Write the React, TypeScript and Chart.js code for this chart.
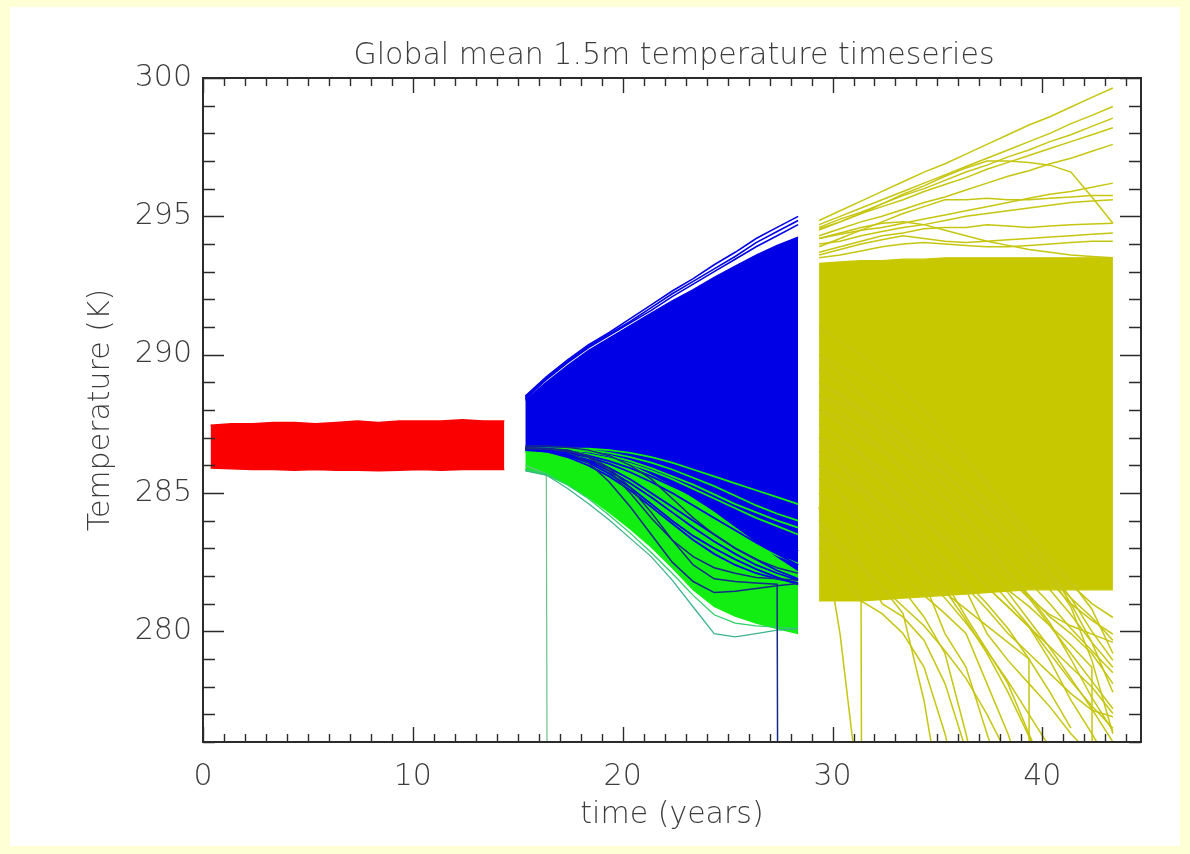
import React, { useEffect, useRef } from 'react';
import { Chart, registerables } from 'chart.js';

Chart.register(...registerables);

// ---------- axis / text ----------
const titleText = 'Global mean 1.5m temperature timeseries';
const xAxisTitle = 'time (years)';
const yAxisTitle = 'Temperature (K)';
const xMin = 0;
const xMax = 44.7;
const yMin = 276;
const yMax = 300;
const xMajorTicks = [0, 10, 20, 30, 40];
const xTickLabels = ['0', '10', '20', '30', '40'];
const yMajorTicks = [280, 285, 290, 295, 300];
const yTickLabels = ['280', '285', '290', '295', '300'];

// ---------- time axes of the three phases ----------
const redYears = [0.36, 1.36, 2.36, 3.36, 4.36, 5.36, 6.36, 7.36, 8.36, 9.36, 10.36, 11.36, 12.36, 13.36, 14.36];
const blueYears = [15.36, 16.36, 17.36, 18.36, 19.36, 20.36, 21.36, 22.36, 23.36, 24.36, 25.36, 26.36, 27.36, 28.36];
const yellowYears = [29.36, 30.36, 31.36, 32.36, 33.36, 34.36, 35.36, 36.36, 37.36, 38.36, 39.36, 40.36, 41.36, 42.36, 43.36];

// ---------- red ensemble (envelope of the dense band) ----------
const redUpper = [287.45, 287.5, 287.5, 287.55, 287.55, 287.5, 287.55, 287.6, 287.55, 287.6, 287.6, 287.6, 287.65, 287.6, 287.6];
const redLower = [285.9, 285.88, 285.85, 285.85, 285.82, 285.85, 285.82, 285.82, 285.8, 285.82, 285.85, 285.82, 285.85, 285.85, 285.85];

// ---------- blue ensemble ----------
const blueTop1 = [288.5, 289.2, 289.8, 290.35, 290.8, 291.3, 291.8, 292.3, 292.75, 293.25, 293.7, 294.2, 294.6, 295.0];
const blueTop2 = [288.45, 289.15, 289.75, 290.3, 290.75, 291.2, 291.7, 292.2, 292.65, 293.1, 293.55, 294.05, 294.45, 294.85];
const blueTop3 = [288.4, 289.1, 289.7, 290.25, 290.7, 291.15, 291.6, 292.1, 292.55, 293.0, 293.45, 293.9, 294.3, 294.7];
const blueMassTop = [288.35, 289.0, 289.6, 290.15, 290.6, 291.05, 291.5, 291.95, 292.35, 292.8, 293.2, 293.6, 293.95, 294.25];
const blueMassBottom = [286.6, 286.6, 286.55, 286.45, 286.3, 286.05, 285.7, 285.3, 284.85, 284.35, 283.8, 283.25, 282.7, 282.2];
const blueLine1 = [286.6, 286.55, 286.4, 286.2, 285.9, 285.5, 285.0, 284.5, 284.0, 283.5, 283.0, 282.6, 282.2, 281.9];
const blueLine2 = [286.6, 286.5, 286.3, 286.0, 285.6, 285.1, 284.5, 283.9, 283.3, 282.8, 282.4, 282.1, 281.9, 281.75];
const blueLine3 = [286.55, 286.5, 286.35, 286.1, 285.7, 285.2, 284.6, 284.0, 283.45, 283.0, 282.6, 282.25, 281.95, 281.7];
const blueLine4 = [286.6, 286.55, 286.45, 286.3, 286.05, 285.75, 285.4, 285.0, 284.55, 284.1, 283.65, 283.2, 282.8, 282.4];
const blueLine5 = [286.6, 286.6, 286.5, 286.35, 286.15, 285.9, 285.6, 285.25, 284.9, 284.5, 284.1, 283.7, 283.3, 282.9];
const blueLine6 = [286.6, 286.55, 286.4, 286.15, 285.8, 285.35, 284.85, 284.3, 283.75, 283.25, 282.8, 282.4, 282.1, 281.85];
const navyLine1 = [286.6, 286.6, 286.5, 286.1, 285.4, 284.5, 283.5, 282.5, 281.8, 281.4, 281.45, 281.55, 281.65, 281.73];
const navyLine2 = [286.65, 286.6, 286.55, 286.35, 285.9, 285.2, 284.3, 283.3, 282.4, 281.9, 281.8, 281.75, 281.7, 0];
const navyLine3 = [286.7, 286.7, 286.65, 286.55, 286.35, 286.0, 285.5, 284.8, 284.1, 283.5, 283.0, 282.6, 282.3, 282.1];
const navyLine4 = [286.6, 286.6, 286.55, 286.3, 285.8, 285.0, 284.1, 283.3, 282.7, 282.3, 282.1, 281.95, 281.9, 281.85];

// ---------- green ensemble ----------
const greenFillTop = [286.65, 286.7, 286.65, 286.55, 286.4, 286.15, 285.8, 285.4, 284.95, 284.45, 283.9, 283.35, 282.8, 282.3];
const greenFillBottom = [285.83, 285.65, 285.3, 284.85, 284.3, 283.7, 283.05, 282.3, 281.5, 280.9, 280.55, 280.3, 280.1, 279.92];
const greenStreak1 = [286.55, 286.55, 286.5, 286.4, 286.25, 286.05, 285.8, 285.5, 285.15, 284.8, 284.45, 284.1, 283.8, 283.5];
const greenStreak2 = [286.6, 286.6, 286.6, 286.55, 286.45, 286.3, 286.1, 285.85, 285.55, 285.25, 284.9, 284.55, 284.25, 284.0];
const greenStreak3 = [286.5, 286.45, 286.35, 286.15, 285.9, 285.6, 285.25, 284.85, 284.4, 283.95, 283.5, 283.1, 282.75, 282.45];
const greenStreak4 = [286.6, 286.6, 286.55, 286.5, 286.35, 286.15, 285.9, 285.6, 285.3, 284.95, 284.6, 284.3, 284.0, 283.75];
const greenStreak5 = [286.6, 286.6, 286.6, 286.6, 286.55, 286.45, 286.3, 286.1, 285.85, 285.6, 285.35, 285.1, 284.85, 284.6];
const greenOutlier1 = [285.8, 285.65, 285.17, 284.62, 284.02, 283.36, 282.7, 281.85, 280.88, 279.92, 279.8, 279.92, 280.04, 280.1];
const greenOutlier2 = [285.85, 285.7, 285.3, 284.8, 284.2, 283.55, 282.85, 282.1, 281.3, 280.6, 280.3, 280.2, 280.15, 280.1];
const greenDrop = [286.0, 285.7, 0, null, null, null, null, null, null, null, null, null, null, null];

// ---------- yellow ensemble ----------
const yellowFillTop = [293.3, 293.35, 293.4, 293.4, 293.45, 293.45, 293.5, 293.5, 293.5, 293.5, 293.5, 293.5, 293.5, 293.5, 293.5];
const yellowFillBottom = [281.1, 281.1, 281.1, 281.15, 281.2, 281.25, 281.3, 281.35, 281.4, 281.45, 281.5, 281.5, 281.5, 281.5, 281.5];
const yellowUp1 = [294.85, 295.2, 295.55, 295.9, 296.25, 296.6, 296.9, 297.25, 297.6, 297.95, 298.3, 298.6, 298.95, 299.3, 299.64];
const yellowUp2 = [294.7, 295.0, 295.3, 295.6, 295.9, 296.2, 296.5, 296.8, 297.1, 297.4, 297.7, 298.0, 298.35, 298.65, 298.97];
const yellowUp3 = [294.6, 294.9, 295.15, 295.45, 295.75, 296.0, 296.3, 296.6, 296.85, 297.15, 297.4, 297.7, 297.95, 298.25, 298.55];
const yellowUp4 = [294.55, 294.8, 295.1, 295.35, 295.6, 295.9, 296.15, 296.4, 296.7, 296.95, 297.2, 297.45, 297.7, 297.95, 298.2];
const yellowUp5 = [294.3, 294.55, 294.8, 295.0, 295.25, 295.5, 295.7, 295.95, 296.2, 296.45, 296.65, 296.9, 297.1, 297.35, 297.6];
const yellowUp6 = [294.5, 294.8, 295.1, 295.45, 295.8, 296.1, 296.45, 296.75, 297.0, 297.0, 296.95, 296.85, 296.6, 295.7, 294.75];
const yellowUp7 = [294.2, 294.35, 294.5, 294.6, 294.75, 294.9, 295.05, 295.2, 295.35, 295.5, 295.65, 295.8, 295.9, 296.05, 296.2];
const yellowUp8 = [293.9, 294.2, 294.5, 294.8, 295.1, 295.35, 295.6, 295.6, 295.65, 295.6, 295.6, 295.65, 295.7, 295.75, 295.75];
const yellowUp9 = [294.0, 294.1, 294.3, 294.45, 294.6, 294.7, 294.85, 295.0, 295.1, 295.2, 295.3, 295.4, 295.5, 295.55, 295.6];
const yellowUp10 = [293.7, 293.9, 294.1, 294.3, 294.4, 294.55, 294.6, 294.6, 294.7, 294.65, 294.6, 294.65, 294.7, 294.72, 294.75];
const yellowUp11 = [293.6, 293.8, 294.0, 294.15, 294.3, 294.2, 294.1, 294.05, 294.1, 294.15, 294.2, 294.25, 294.3, 294.35, 294.4];
const yellowUp12 = [293.5, 293.6, 293.75, 293.9, 294.0, 294.05, 294.0, 293.95, 293.9, 293.9, 293.95, 294.0, 294.05, 294.1, 294.1];
const yellowUp13 = [294.2, 294.4, 294.6, 294.75, 294.8, 294.7, 294.5, 294.3, 294.1, 293.95, 293.8, 293.7, 293.6, 293.55, 293.5];
const yellowLow1 = [284.5, 279.9, 273.5, null, null, null, null, null, null, null, null, null, null, null, null];
const yellowLow2 = [283.0, 282.0, 281.1, 0, null, null, null, null, null, null, null, null, null, null, null];
const yellowLow3 = [284.0, 283.0, 281.1, 280.64, 279.92, 278.71, 276.3, 273.0, null, null, null, null, null, null, null];
const yellowLow4 = [285.0, 284.0, 282.5, 281.0, 280.52, 279.68, 278.11, 275.7, null, null, null, null, null, null, null];
const yellowLow5 = [283.5, 283.0, 282.3, 281.6, 280.64, 277.5, 273.0, null, null, null, null, null, null, null, null];
const yellowLow6 = [286.0, 285.0, 283.5, 282.2, 281.5, 280.52, 279.2, 276.3, 273.0, null, null, null, null, null, null];
const yellowLow7 = [285.5, 285.0, 284.0, 283.0, 282.0, 281.3, 280.64, 279.92, 278.11, 276.3, 274.0, null, null, null, null];
const yellowLow8 = [287.0, 286.0, 285.0, 284.0, 283.0, 281.8, 279.92, 278.71, 276.3, 274.0, null, null, null, null, null];
const yellowLow9 = [286.5, 286.0, 285.2, 284.5, 283.6, 282.8, 281.8, 280.52, 279.32, 278.11, 276.3, 274.5, null, null, null];
const yellowLow10 = [288.0, 287.5, 286.5, 285.5, 284.5, 283.5, 282.5, 281.5, 279.92, 278.95, 278.11, 277.27, 276.3, 275.5, null];
const yellowLow11 = [285.0, 284.5, 284.0, 283.3, 282.6, 282.0, 281.4, 280.8, 280.2, 279.6, 279.0, 0, null, null, null];
const yellowLow12 = [287.5, 287.0, 286.3, 285.5, 284.8, 284.0, 283.2, 282.4, 281.6, 280.88, 280.16, 278.95, 277.51, 276.3, 275.0];
const yellowLow13 = [286.0, 285.5, 285.0, 284.3, 283.7, 283.0, 282.3, 281.6, 280.8, 279.92, 279.2, 278.47, 277.75, 277.15, 276.91];
const yellowLow14 = [287.0, 286.6, 286.0, 285.4, 284.7, 284.0, 283.3, 282.5, 281.6, 280.9, 280.16, 279.44, 278.71, 277.99, 277.03];
const yellowLow15 = [288.0, 287.6, 287.0, 286.5, 285.8, 285.1, 284.4, 283.6, 282.9, 282.1, 281.3, 280.52, 279.92, 279.2, 278.11];
const yellowLow16 = [286.5, 286.0, 285.6, 285.0, 284.5, 284.0, 283.4, 282.8, 282.2, 281.5, 280.9, 280.2, 279.5, 278.7, 0];
const yellowLow17 = [289.0, 288.5, 288.0, 287.4, 286.8, 286.2, 285.6, 285.0, 284.3, 283.6, 282.8, 282.0, 280.88, 278.95, 276.3];
const yellowLow18 = [288.5, 288.2, 287.8, 287.3, 286.8, 286.2, 285.6, 285.0, 284.4, 283.6, 282.8, 282.0, 281.2, 280.5, 279.68];
const yellowLow19 = [289.5, 289.0, 288.5, 288.0, 287.4, 286.8, 286.1, 285.4, 284.6, 283.8, 283.0, 282.2, 281.2, 280.0, 278.95];
const yellowLow20 = [284.0, 283.2, 282.4, 281.6, 280.9, 280.2, 279.3, 278.3, 277.0, 275.5, null, null, null, null, null];
const yellowLow21 = [287.0, 286.2, 285.4, 284.5, 283.5, 282.5, 281.5, 280.4, 279.2, 277.8, 276.2, 274.5, null, null, null];
const yellowLow22 = [290.0, 289.3, 288.6, 287.8, 287.0, 286.1, 285.2, 284.2, 283.2, 282.2, 281.2, 280.2, 279.2, 278.2, 277.2];
const yellowLow23 = [288.5, 288.0, 287.3, 286.6, 285.8, 285.0, 284.2, 283.3, 282.4, 281.4, 280.4, 279.4, 278.3, 277.2, 276.0];
const yellowLow24 = [288.0, 287.6, 287.1, 286.6, 286.0, 285.4, 284.8, 284.1, 283.4, 282.6, 281.8, 281.0, 280.1, 279.3, 278.5];
const yellowLow25 = [287.5, 287.0, 286.4, 285.8, 285.1, 284.4, 283.6, 282.8, 282.0, 281.1, 280.2, 279.2, 278.2, 277.3, 276.5];
const yellowLow26 = [289.0, 288.6, 288.1, 287.6, 287.0, 286.4, 285.7, 285.0, 284.2, 283.4, 282.6, 281.8, 281.0, 280.4, 279.9];
const yellowLow27 = [286.0, 285.6, 285.1, 284.6, 284.0, 283.3, 282.6, 281.8, 281.0, 280.1, 279.0, 277.8, 276.5, null, null];
const yellowLow28 = [288.0, 287.8, 287.4, 287.0, 286.5, 286.0, 285.3, 284.6, 283.9, 283.1, 282.3, 281.5, 280.6, 279.6, 278.7];
const yellowLow29 = [290.0, 289.6, 289.2, 288.7, 288.1, 287.5, 286.8, 286.1, 285.3, 284.5, 283.6, 282.7, 281.8, 280.8, 279.2];
const yellowLow30 = [289.0, 288.5, 287.9, 287.2, 286.5, 285.7, 284.9, 284.0, 283.1, 282.2, 281.3, 280.3, 279.0, 277.6, 276.4];
const yellowLow31 = [287.0, 286.8, 286.4, 285.9, 285.3, 284.7, 284.1, 283.4, 282.7, 281.9, 281.2, 280.6, 280.2, 279.9, 279.6];
const yellowLow32 = [285.5, 285.0, 284.3, 283.6, 282.8, 282.0, 281.2, 280.3, 279.3, 278.2, 277.0, 275.8, null, null, null];
const yellowLow33 = [288.5, 288.3, 288.0, 287.6, 287.1, 286.6, 286.0, 285.4, 284.8, 284.1, 283.3, 282.5, 281.7, 281.0, 280.5];
const yellowLow34 = [291.0, 290.5, 290.0, 289.4, 288.7, 288.0, 287.2, 286.3, 285.4, 284.4, 283.3, 282.2, 281.0, 279.6, 277.8];

// ---------- colours ----------
const RED = '#fa0000';
const BLUE = '#0000e6';
const NAVY = '#142a8c';
const GREEN = '#12ee12';
const TEAL = '#3cb48c';
const YELLOW = '#c8c800';
const YELLOW_LINE = '#c6c610';
const TEXT = '#3c3c3c';
const FONT = '"DejaVu Sans", "Liberation Sans", sans-serif';

function pts(years: number[], vals: (number | null)[]) {
  const out: { x: number; y: number }[] = [];
  vals.forEach((v, i) => {
    if (v !== null && v !== undefined) out.push({ x: years[i], y: v });
  });
  return out;
}

function ds(data: any[], color: string, order: number, width = 1.3, extra: any = {}) {
  return {
    data,
    borderColor: color,
    backgroundColor: color,
    borderWidth: width,
    pointRadius: 0,
    pointHoverRadius: 0,
    tension: 0,
    fill: false,
    order,
    ...extra,
  };
}

const framePlugin = {
  id: 'idlFrame',
  beforeDraw(chart: any) {
    const { ctx, width, height } = chart;
    ctx.save();
    ctx.fillStyle = '#ffffd6';
    ctx.fillRect(0, 0, width, height);
    ctx.fillStyle = '#ffffff';
    ctx.fillRect(10, 7, 1170, 839);
    ctx.restore();
  },
  afterDraw(chart: any) {
    const { ctx, chartArea: a, scales } = chart;
    const xs = scales.x;
    const ys = scales.y;
    ctx.save();
    ctx.strokeStyle = '#2b2b2b';
    ctx.lineWidth = 1.4;
    ctx.beginPath();
    for (let v = Math.ceil(xMin); v <= Math.floor(xMax); v++) {
      const px = Math.round(xs.getPixelForValue(v)) + 0.5;
      const len = xMajorTicks.includes(v) ? 15 : 8;
      ctx.moveTo(px, a.bottom);
      ctx.lineTo(px, a.bottom - len);
      ctx.moveTo(px, a.top);
      ctx.lineTo(px, a.top + len);
    }
    for (let v = yMin; v <= yMax; v++) {
      const py = Math.round(ys.getPixelForValue(v)) + 0.5;
      const len = yMajorTicks.includes(v) ? 21 : 12;
      ctx.moveTo(a.left, py);
      ctx.lineTo(a.left + len, py);
      ctx.moveTo(a.right, py);
      ctx.lineTo(a.right - len, py);
    }
    ctx.stroke();
    ctx.lineWidth = 2;
    ctx.strokeRect(a.left, a.top, a.right - a.left, a.bottom - a.top);

    ctx.fillStyle = TEXT;
    ctx.font = `200 30px ${FONT}`;
    ctx.textAlign = 'center';
    ctx.textBaseline = 'middle';
    xMajorTicks.forEach((v, i) => {
      ctx.fillText(xTickLabels[i], xs.getPixelForValue(v), a.bottom + 35);
    });
    ctx.textAlign = 'right';
    yMajorTicks.forEach((v, i) => {
      ctx.fillText(yTickLabels[i], a.left - 11, ys.getPixelForValue(v));
    });
    ctx.textAlign = 'center';
    ctx.fillText(titleText, (a.left + a.right) / 2 + 2, 56);
    ctx.fillText(xAxisTitle, (a.left + a.right) / 2, 815);
    ctx.save();
    ctx.translate(101, (a.top + a.bottom) / 2);
    ctx.rotate(-Math.PI / 2);
    ctx.fillText(yAxisTitle, 0, 0);
    ctx.restore();
    ctx.restore();
  },
};

export default function App() {
  const canvasRef = useRef<HTMLCanvasElement | null>(null);

  useEffect(() => {
    const canvas = canvasRef.current;
    if (!canvas) return;

    const datasets: any[] = [];
    // red band
    datasets.push(ds(pts(redYears, redLower), RED, 100, 1.5));
    datasets.push(ds(pts(redYears, redUpper), RED, 100, 1.5, { fill: '-1' }));
    // green band (under blue)
    datasets.push(ds(pts(blueYears, greenFillBottom), GREEN, 90, 1.3));
    datasets.push(ds(pts(blueYears, greenFillTop), GREEN, 90, 1.3, { fill: '-1' }));
    // blue mass
    datasets.push(ds(pts(blueYears, blueMassBottom), BLUE, 80, 1.3));
    datasets.push(ds(pts(blueYears, blueMassTop), BLUE, 80, 1.3, { fill: '-1' }));
    // green streaks over the blue
    [greenStreak1, greenStreak2, greenStreak3, greenStreak4, greenStreak5].forEach((v) =>
      datasets.push(ds(pts(blueYears, v), GREEN, 75, 1.8)));
    // blue individual lines
    [blueLine1, blueLine2, blueLine3, blueLine4, blueLine5, blueLine6].forEach((v) =>
      datasets.push(ds(pts(blueYears, v), BLUE, 70, 1.8)));
    // green outliers
    datasets.push(ds(pts(blueYears, greenOutlier1), TEAL, 60, 1.3));
    datasets.push(ds(pts(blueYears, greenOutlier2), '#2ed06a', 60, 1.3));
    datasets.push(ds(pts(blueYears, greenDrop), '#6cc08c', 60, 1.2));
    // navy lines
    [navyLine1, navyLine2, navyLine3, navyLine4].forEach((v) => datasets.push(ds(pts(blueYears, v), NAVY, 50, 1.5)));
    // blue top bundle
    [blueTop1, blueTop2, blueTop3].forEach((v) => datasets.push(ds(pts(blueYears, v), BLUE, 45, 1.6)));
    // yellow mass
    datasets.push(ds(pts(yellowYears, yellowFillBottom), YELLOW, 40, 1.3));
    datasets.push(ds(pts(yellowYears, yellowFillTop), YELLOW, 40, 1.3, { fill: '-1' }));
    // yellow upper lines
    [yellowUp1, yellowUp2, yellowUp3, yellowUp4, yellowUp5, yellowUp6, yellowUp7, yellowUp8, yellowUp9,
      yellowUp10, yellowUp11, yellowUp12, yellowUp13].forEach((v) => datasets.push(ds(pts(yellowYears, v), YELLOW_LINE, 30, 1.5)));
    // yellow lower lines
    [yellowLow1, yellowLow2, yellowLow3, yellowLow4, yellowLow5, yellowLow6, yellowLow7, yellowLow8, yellowLow9,
      yellowLow10, yellowLow11, yellowLow12, yellowLow13, yellowLow14, yellowLow15, yellowLow16, yellowLow17,
      yellowLow18, yellowLow19, yellowLow20, yellowLow21, yellowLow22, yellowLow23, yellowLow24, yellowLow25,
      yellowLow26, yellowLow27, yellowLow28, yellowLow29, yellowLow30, yellowLow31, yellowLow32, yellowLow33,
      yellowLow34].forEach((v) => datasets.push(ds(pts(yellowYears, v), YELLOW_LINE, 30, 1.5)));

    const chart = new Chart(canvas, {
      type: 'line',
      data: { datasets },
      options: {
        responsive: false,
        animation: false,
        events: [],
        devicePixelRatio: 1,
        layout: { padding: { left: 203, right: 49, top: 78, bottom: 112 } },
        scales: {
          x: { type: 'linear', min: xMin, max: xMax, display: false },
          y: { type: 'linear', min: yMin, max: yMax, display: false },
        },
        plugins: {
          legend: { display: false },
          title: { display: false },
          tooltip: { enabled: false },
        },
      },
      plugins: [framePlugin],
    } as any);

    return () => chart.destroy();
  }, []);

  return (
    <div style={{ position: 'absolute', left: 0, top: 0, width: 1190, height: 854 }}>
      <canvas ref={canvasRef} width={1190} height={854} />
    </div>
  );
}
